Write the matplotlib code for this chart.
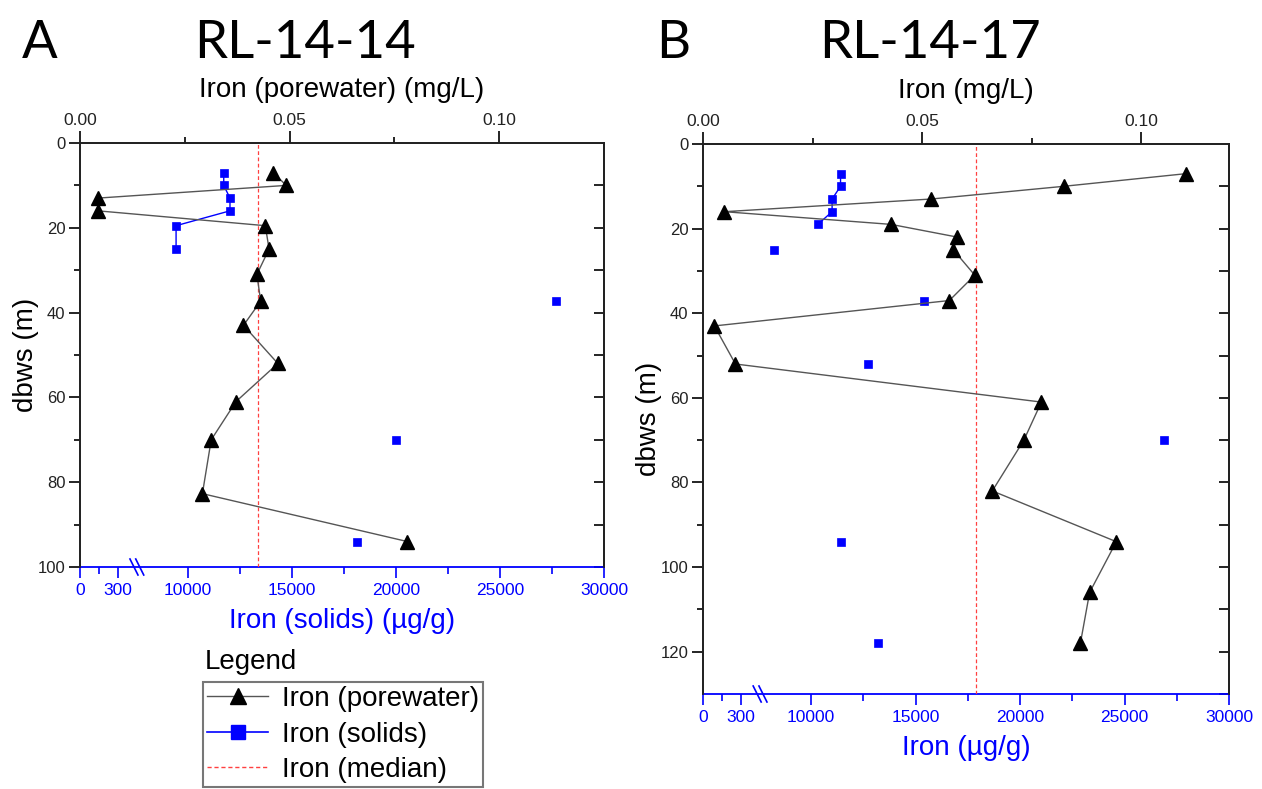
import matplotlib
matplotlib.use('Agg')
import matplotlib.pyplot as plt
from matplotlib.lines import Line2D
import numpy as np

plt.rcParams['font.family'] = ['Liberation Sans', 'DejaVu Sans']

nan = np.nan

# RL-14-14 (panel A)
depth_a = [7, 10, 13, 16, 19.5, 25, 31, 37.3, 43, 52, 61, 70, 82.7, 94]
pore_a = [0.0461, 0.0492, 0.0042, 0.0043, 0.0442, 0.0451, 0.0422, 0.0431,
          0.0390, 0.0472, 0.0372, 0.0313, 0.0292, 0.0781]
solids_a = [11730, 11730, 12030, 12030, 9440, 9440, nan, 27690,
            nan, nan, nan, 20000, nan, 18125]
median_a = 0.0425

# RL-14-17 (panel B)
depth_b = [7, 10, 13, 16, 19, 22, 25, 31, 37, 43, 52, 61, 70, 82, 94, 106, 118]
pore_b = [0.1103, 0.0823, 0.0521, 0.0049, 0.0429, 0.0580, 0.0571, 0.0620,
          0.0562, 0.0026, 0.0074, 0.0772, 0.0732, 0.0660, 0.0943, 0.0882, 0.0861]
solids_b = [11407, 11407, 11003, 11003, 10317, nan, 8219, nan, 15420,
            nan, 12703, nan, 26865, nan, 11407, nan, 13212]
median_b = 0.0622

bottom_ticks = [0, 300, 10000, 15000, 20000, 25000, 30000]
bottom_minor = [150, 12500, 17500, 22500, 27500]
top_ticks = [0.0, 0.05, 0.10]
top_labels = ['0.00', '0.05', '0.10']

# broken bottom axis: 0..440 | 7500..30000
X_MAX = 30000
BREAK_LO = 440
BREAK_HI = 7500
BREAK_FRAC = 0.1063


def fwd(x):
    x = np.asarray(x, dtype=float)
    lo = x / BREAK_LO * BREAK_FRAC
    hi = BREAK_FRAC + (x - BREAK_HI) / (X_MAX - BREAK_HI) * (1 - BREAK_FRAC)
    out = np.where(x <= BREAK_LO, lo, np.where(x >= BREAK_HI, hi, BREAK_FRAC))
    return np.where(np.isnan(x), np.nan, out)


def inv(y):
    y = np.asarray(y, dtype=float)
    return np.where(y <= BREAK_FRAC, y / BREAK_FRAC * BREAK_LO,
                    BREAK_HI + (y - BREAK_FRAC) / (1 - BREAK_FRAC) * (X_MAX - BREAK_HI))


W, H = 1262, 789
fig = plt.figure(figsize=(W / 100, H / 100), dpi=100)


def panel(px_box, depth, pore, solids, median, top_max, y_max, top_label, bottom_label):
    x0, x1, y0, y1 = px_box
    ax = fig.add_axes([x0 / W, 1 - y1 / H, (x1 - x0) / W, (y1 - y0) / H])
    ax.set_xscale('function', functions=(fwd, inv))
    ax.plot(solids, depth, color='blue', lw=1, marker='s', ms=6,
            mfc='blue', mec='blue', mew=0.5, zorder=3)
    ax.set_xlim(0, X_MAX)
    ax.set_ylim(y_max, 0)
    ax.set_xticks(bottom_ticks)
    ax.set_xticklabels([str(t) for t in bottom_ticks])
    ax.set_xticks(bottom_minor, minor=True)
    ax.tick_params(axis='x', which='both', colors='blue', labelsize=12.5, width=1.2)
    ax.tick_params(axis='x', which='major', length=8)
    ax.tick_params(axis='x', which='minor', length=5)
    ax.set_xlabel(bottom_label, color='blue', fontsize=20, labelpad=7.5)

    ax.set_yticks(np.arange(0, y_max + 1, 20))
    ax.set_yticks(np.arange(10, y_max, 20), minor=True)
    ax.tick_params(axis='y', which='major', length=8, width=1.2, labelsize=12,
                   labelcolor='#222', pad=2.5)
    ax.tick_params(axis='y', which='minor', length=4.5, width=1.2)
    ax.set_ylabel('dbws (m)', fontsize=20, labelpad=-1)

    for s in ['left', 'right', 'top']:
        ax.spines[s].set_linewidth(1.3)
        ax.spines[s].set_color('#222')
    ax.spines['bottom'].set_color('blue')
    ax.spines['bottom'].set_linewidth(1.3)

    sec = ax.secondary_yaxis('right')
    sec.set_yticks(np.arange(10, y_max + 1, 10))
    sec.tick_params(direction='in', length=7, width=1.2, labelright=False)
    sec.spines['right'].set_linewidth(1.3)
    sec.spines['right'].set_color('#222')

    # break marks on the bottom axis
    hpx = y1 - y0
    wpx = x1 - x0
    for xc in (0.103, 0.114):
        ax.plot([xc - 4 / wpx, xc + 4 / wpx], [8 / hpx, -8 / hpx],
                transform=ax.transAxes, color='blue', lw=1.2, clip_on=False)

    top = ax.twiny()
    top.plot(pore, depth, color='#555555', lw=1, marker='^', ms=9.5,
             mfc='black', mec='black', zorder=4)
    top.axvline(median, color='#ff4040', ls=(0, (3, 2)), lw=0.9, zorder=2)
    top.set_xlim(0, top_max)
    top.set_xticks(top_ticks)
    top.set_xticklabels(top_labels)
    top.set_xticks([0.025, 0.075], minor=True)
    top.tick_params(axis='x', which='major', length=9, width=1.2, labelsize=12.5,
                    labelcolor='#222', pad=2)
    top.tick_params(axis='x', which='minor', length=4.5, width=1.2)
    top.set_xlabel(top_label, fontsize=20, labelpad=11)
    top.spines['bottom'].set_visible(False)
    for s in ['left', 'right', 'top']:
        top.spines[s].set_linewidth(1.3)
        top.spines[s].set_color('#222')
    return ax, top


panel((80, 604, 143, 567), depth_a, pore_a, solids_a, median_a, 0.125, 100,
      'Iron (porewater) (mg/L)', 'Iron (solids) (µg/g)')
panel((703, 1229, 144, 694), depth_b, pore_b, solids_b, median_b, 0.12, 130,
      'Iron (mg/L)', 'Iron (µg/g)')

title_font = ['Lato', 'DejaVu Sans']
ty = 1 - 44 / H
fig.text(40 / W, ty, 'A', fontsize=38, family=title_font, ha='center', va='center')
fig.text(305 / W, ty, 'RL-14-14', fontsize=38, family=title_font, ha='center', va='center')
fig.text(673 / W, ty, 'B', fontsize=38, family=title_font, ha='center', va='center')
fig.text(930 / W, ty, 'RL-14-17', fontsize=38, family=title_font, ha='center', va='center')

handles = [
    Line2D([], [], color='#555555', lw=1, marker='^', ms=11, mfc='black', mec='black'),
    Line2D([], [], color='blue', lw=1.2, marker='s', ms=10, mfc='blue', mec='blue'),
    Line2D([], [], color='#ff4040', lw=1, ls=(0, (3, 2))),
]
labels = ['Iron (porewater)', 'Iron (solids)', 'Iron (median)']
fig.text(205 / W, 1 - 662 / H, 'Legend', fontsize=20, ha='left', va='center')
leg = fig.legend(handles, labels, loc='upper left',
                 bbox_to_anchor=(203 / W, 1 - 682 / H), fontsize=20,
                 frameon=True, fancybox=False, edgecolor='#777777', framealpha=1,
                 borderpad=0.15, handlelength=2.2, handletextpad=0.5,
                 labelspacing=0.34, borderaxespad=0)
leg.get_frame().set_linewidth(1.5)

fig.savefig('out.png', dpi=100)
